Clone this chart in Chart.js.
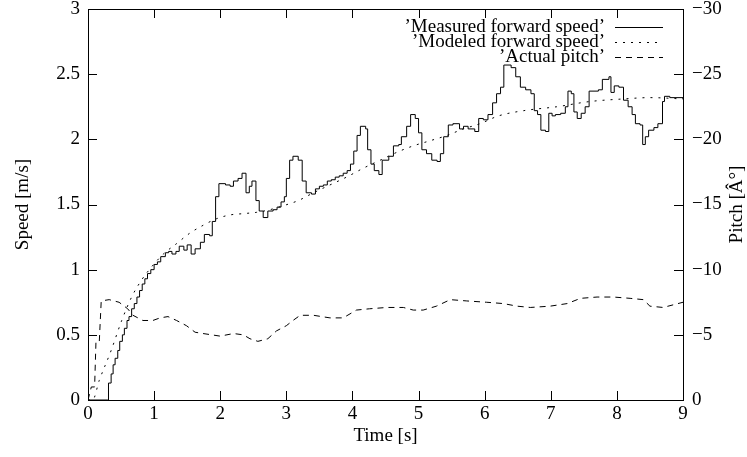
<!DOCTYPE html>
<html>
<head>
<meta charset="utf-8">
<script src="https://cdn.jsdelivr.net/npm/chart.js@4.4.1/dist/chart.umd.min.js"></script>
<style>
  body { margin: 0; background: #fff; }
  canvas { display: block; }
</style>
</head>
<body>
<canvas id="chart" width="747" height="457"></canvas>
<script>
// series names as in the gnuplot key
const seriesLabels = ["\u2019Measured forward speed\u2019", "\u2019Modeled forward speed\u2019", "\u2019Actual pitch\u2019"];

// measured speed, stepped (time [s], speed [m/s])
const measuredTime = [0, 0.30, 0.31, 0.35, 0.38, 0.41, 0.45, 0.48, 0.52, 0.55, 0.59, 0.62, 0.66, 0.70, 0.74, 0.78, 0.82, 0.86, 0.90, 0.95,
  1.00, 1.05, 1.10, 1.17, 1.22, 1.27, 1.33, 1.38, 1.45, 1.50, 1.56, 1.62, 1.70, 1.76, 1.84, 1.88, 1.93, 1.98, 2.08, 2.15,
  2.20, 2.27, 2.33, 2.39, 2.44, 2.48, 2.54, 2.59, 2.65, 2.72, 2.80, 2.86, 2.92, 2.97, 3.00, 3.05, 3.10, 3.18, 3.24, 3.30,
  3.38, 3.44, 3.50, 3.56, 3.62, 3.68, 3.74, 3.80, 3.86, 3.92, 3.97, 4.02, 4.07, 4.12, 4.20, 4.23, 4.28, 4.33, 4.40, 4.45,
  4.55, 4.62, 4.70, 4.74, 4.82, 4.88, 4.95, 5.00, 5.05, 5.12, 5.20, 5.28, 5.33, 5.38, 5.45, 5.52, 5.62, 5.68, 5.75, 5.85,
  5.91, 5.98, 6.05, 6.12, 6.18, 6.24, 6.29, 6.40, 6.47, 6.54, 6.62, 6.70, 6.75, 6.80, 6.85, 6.92, 6.97, 7.02, 7.07, 7.15,
  7.22, 7.26, 7.31, 7.35, 7.40, 7.46, 7.52, 7.58, 7.72, 7.78, 7.88, 7.91, 7.96, 8.03, 8.10, 8.17, 8.23, 8.28, 8.35, 8.39,
  8.43, 8.48, 8.56, 8.62, 8.69, 8.72, 8.80, 9.00];
const measuredSpeed = [0, 0, 0.13, 0.20, 0.27, 0.32, 0.38, 0.45, 0.50, 0.55, 0.61, 0.64, 0.70, 0.74, 0.79, 0.84, 0.89, 0.93, 0.97, 1.00,
  1.04, 1.06, 1.10, 1.13, 1.14, 1.12, 1.14, 1.18, 1.15, 1.19, 1.12, 1.16, 1.21, 1.27, 1.26, 1.37, 1.56, 1.66, 1.65, 1.64,
  1.68, 1.70, 1.74, 1.59, 1.64, 1.68, 1.53, 1.45, 1.40, 1.45, 1.46, 1.48, 1.52, 1.56, 1.70, 1.84, 1.87, 1.84, 1.68, 1.59,
  1.58, 1.62, 1.64, 1.65, 1.68, 1.69, 1.71, 1.72, 1.74, 1.76, 1.81, 1.91, 2.03, 2.10, 2.08, 1.92, 1.81, 1.76, 1.73, 1.84,
  1.87, 1.95, 1.96, 2.02, 2.10, 2.19, 2.16, 2.05, 1.92, 1.89, 1.84, 1.83, 1.89, 2.02, 2.11, 2.12, 2.08, 2.10, 2.08, 2.06,
  2.16, 2.15, 2.19, 2.28, 2.35, 2.40, 2.57, 2.55, 2.48, 2.40, 2.38, 2.35, 2.22, 2.19, 2.07, 2.06, 2.20, 2.18, 2.19, 2.20,
  2.25, 2.37, 2.35, 2.21, 2.16, 2.20, 2.25, 2.37, 2.38, 2.46, 2.48, 2.36, 2.41, 2.40, 2.30, 2.25, 2.19, 2.12, 2.11, 1.96,
  2.02, 2.07, 2.09, 2.12, 2.29, 2.33, 2.32, 2.31];

// modeled speed (time [s], speed [m/s])
const modelTime = [0, 0.07, 0.17, 0.35, 0.51, 0.66, 0.81, 0.96, 1.14, 1.34, 1.54, 1.74, 1.94, 2.15, 2.35, 2.55, 2.75, 2.95, 3.18, 3.41,
  3.66, 3.91, 4.17, 4.42, 4.67, 4.92, 5.18, 5.43, 5.68, 5.93, 6.21, 6.59, 7.09, 7.59, 8.10, 8.50, 9.00];
const modelSpeed = [0, 0, 0.15, 0.38, 0.61, 0.79, 0.92, 1.02, 1.12, 1.20, 1.28, 1.34, 1.39, 1.42, 1.43, 1.44, 1.46, 1.49, 1.53, 1.59,
  1.65, 1.71, 1.78, 1.84, 1.90, 1.95, 1.99, 2.03, 2.08, 2.12, 2.18, 2.22, 2.25, 2.29, 2.31, 2.32, 2.31];

// actual pitch (time [s], pitch [deg], right axis)
const pitchTime = [0, 0.05, 0.10, 0.12, 0.17, 0.20, 0.32, 0.47, 0.60, 0.68, 0.83, 0.98, 1.09, 1.21, 1.34, 1.49, 1.62, 1.74, 2.00, 2.20,
  2.35, 2.45, 2.57, 2.72, 2.85, 3.00, 3.10, 3.21, 3.41, 3.66, 3.86, 4.06, 4.26, 4.52, 4.77, 4.92, 5.07, 5.27, 5.48, 5.73,
  6.03, 6.28, 6.49, 6.69, 6.99, 7.25, 7.45, 7.70, 7.95, 8.20, 8.40, 8.50, 8.70, 9.00];
const pitchDeg = [0, -1.0, -1.0, -4.4, -4.4, -7.6, -7.7, -7.5, -7.0, -6.5, -6.1, -6.1, -6.3, -6.4, -6.1, -5.7, -5.2, -5.1, -4.9, -5.1,
  -5.0, -4.7, -4.5, -4.7, -5.3, -5.7, -6.1, -6.5, -6.5, -6.3, -6.3, -6.9, -7.0, -7.1, -7.1, -6.9, -6.9, -7.2, -7.7, -7.6,
  -7.5, -7.4, -7.2, -7.1, -7.2, -7.4, -7.8, -7.9, -7.9, -7.8, -7.7, -7.2, -7.1, -7.5];

// tick labels
const timeTicks = [0, 1, 2, 3, 4, 5, 6, 7, 8, 9];
const speedTicks = [0, 0.5, 1, 1.5, 2, 2.5, 3];
const pitchTicks = [-30, -25, -20, -15, -10, -5, 0];

const xTitle = "Time [s]";
const yTitle = "Speed [m/s]";
const y2Title = "Pitch [\u00c2\u00b0]";

const FONT = "'Liberation Serif', 'Times New Roman', serif";
Chart.defaults.font.family = FONT;
Chart.defaults.font.size = 19;
Chart.defaults.color = "#000";

function toPoints(xs, ys) {
  return xs.map((x, i) => ({ x: x, y: ys[i] }));
}

// gnuplot-like frame: box, inward ticks, key and right-hand label
const framePlugin = {
  id: "frame",
  afterDraw(chart) {
    const { ctx, chartArea: a, scales } = chart;
    ctx.save();
    ctx.strokeStyle = "#000";
    ctx.lineWidth = 1;
    ctx.setLineDash([]);
    ctx.strokeRect(Math.round(a.left) + 0.5, Math.round(a.top) + 0.5, Math.round(a.right - a.left), Math.round(a.bottom - a.top));

    const tl = 9;
    ctx.beginPath();
    timeTicks.forEach((v) => {
      const px = Math.round(scales.x.getPixelForValue(v)) + 0.5;
      ctx.moveTo(px, a.bottom); ctx.lineTo(px, a.bottom - tl);
      ctx.moveTo(px, a.top); ctx.lineTo(px, a.top + tl);
    });
    speedTicks.forEach((v) => {
      const py = Math.round(scales.y.getPixelForValue(v)) + 0.5;
      ctx.moveTo(a.left, py); ctx.lineTo(a.left + tl, py);
    });
    pitchTicks.forEach((v) => {
      const py = Math.round(scales.y1.getPixelForValue(v)) + 0.5;
      ctx.moveTo(a.right, py); ctx.lineTo(a.right - tl, py);
    });
    ctx.stroke();

    // key
    ctx.font = "19px " + FONT;
    ctx.fillStyle = "#000";
    ctx.textAlign = "right";
    ctx.textBaseline = "middle";
    chart.data.datasets.forEach((ds, i) => {
      const y = 27 + 15 * i;
      ctx.fillText(ds.label, 605, y);
      ctx.beginPath();
      ctx.setLineDash(ds.borderDash || []);
      ctx.moveTo(615, y + 0.5);
      ctx.lineTo(663, y + 0.5);
      ctx.stroke();
    });
    ctx.setLineDash([]);

    // right axis title, reading bottom to top
    ctx.translate(737, (a.top + a.bottom) / 2);
    ctx.rotate(-Math.PI / 2);
    ctx.textAlign = "center";
    ctx.fillText(y2Title, 0, 0);
    ctx.restore();
  },
};

function fixWidth(w) {
  return (s) => { s.width = w; s.paddingTop = 0; s.paddingBottom = 0; };
}

new Chart(document.getElementById("chart"), {
  type: "line",
  data: {
    datasets: [
      {
        label: seriesLabels[0],
        data: toPoints(measuredTime, measuredSpeed),
        stepped: true,
        borderColor: "#000",
        borderWidth: 1,
        pointRadius: 0,
        yAxisID: "y",
      },
      {
        label: seriesLabels[1],
        data: toPoints(modelTime, modelSpeed),
        borderColor: "#000",
        borderWidth: 1,
        borderDash: [2, 6],
        pointRadius: 0,
        cubicInterpolationMode: "monotone",
        yAxisID: "y",
      },
      {
        label: seriesLabels[2],
        data: toPoints(pitchTime, pitchDeg),
        borderColor: "#000",
        borderWidth: 1,
        borderDash: [6, 5],
        pointRadius: 0,
        yAxisID: "y1",
      },
    ],
  },
  options: {
    responsive: false,
    animation: false,
    layout: { padding: { top: 9, left: 0, right: 0, bottom: 0 } },
    plugins: { legend: { display: false }, tooltip: { enabled: false } },
    scales: {
      x: {
        type: "linear",
        min: 0,
        max: 9,
        afterBuildTicks: (s) => { s.ticks = timeTicks.map((v) => ({ value: v })); },
        afterFit: (s) => { s.height = 57; s.paddingLeft = 0; s.paddingRight = 0; },
        grid: { display: false, drawTicks: false, tickLength: 0 },
        border: { display: false },
        ticks: { padding: 3, maxRotation: 0, callback: (v) => String(v) },
        title: { display: true, text: xTitle, padding: { top: 0, bottom: 10 } },
      },
      y: {
        position: "left",
        min: 0,
        max: 3,
        afterBuildTicks: (s) => { s.ticks = speedTicks.map((v) => ({ value: v })); },
        afterFit: fixWidth(88),
        grid: { display: false, drawTicks: false, tickLength: 0 },
        border: { display: false },
        ticks: { padding: 8, callback: (v) => String(v) },
        title: { display: true, text: yTitle, padding: { top: 12, bottom: 0 } },
      },
      y1: {
        position: "right",
        min: -30,
        max: 0,
        reverse: true,
        afterBuildTicks: (s) => { s.ticks = pitchTicks.map((v) => ({ value: v })); },
        afterFit: fixWidth(64),
        grid: { display: false, drawTicks: false, tickLength: 0 },
        border: { display: false },
        ticks: { padding: 9, callback: (v) => String(v).replace("-", "\u2212") },
      },
    },
  },
  plugins: [framePlugin],
});
</script>
</body>
</html>
